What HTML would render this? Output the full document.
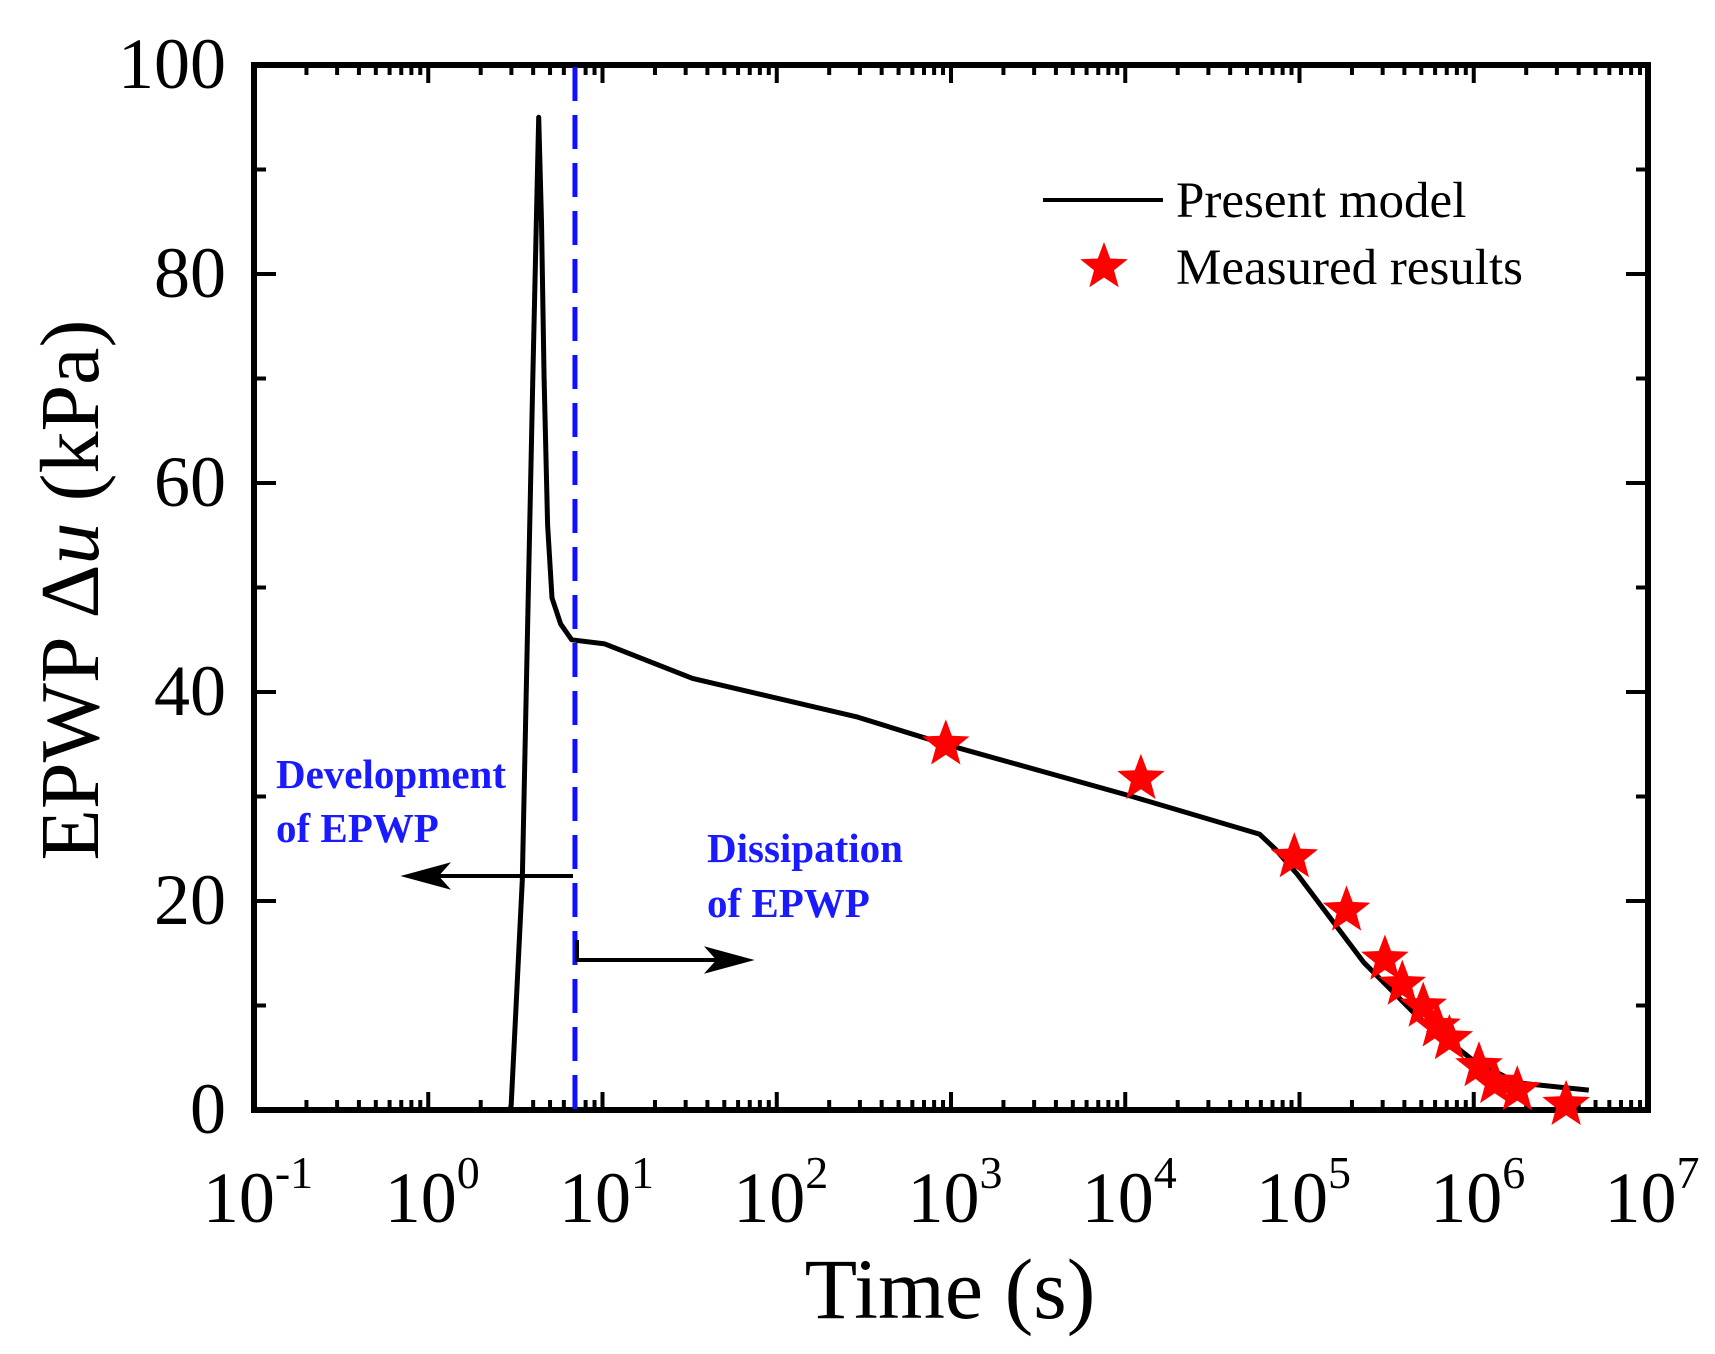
<!DOCTYPE html>
<html><head><meta charset="utf-8"><style>
html,body{margin:0;padding:0;background:#fff;}
svg{display:block;font-family:"Liberation Serif",serif;}
</style></head><body>
<svg id="chart" width="1715" height="1354" viewBox="0 0 1715 1354" xmlns="http://www.w3.org/2000/svg"></svg>
<script>
const curveLogT=[-0.4,0.47,0.476,0.54,0.6,0.634,0.65,0.665,0.685,0.71,0.76,0.823,1.013,1.517,2.464,2.968,4.04,4.77,4.86,4.99,5.37,5.68,6.0,6.25,6.66];
const curveU=[0,0,0.5,22,70,95,85,70,56,49,46.5,45,44.6,41.3,37.6,35,30,26.4,25,22.5,14.1,8.9,4.7,2.6,1.9];
const starLogT=[2.97,4.09,4.97,5.27,5.49,5.59,5.71,5.79,5.86,6.03,6.12,6.25,6.53];
const starU=[35,31.7,24.2,19.1,14.4,12,9.9,8,6.8,4.2,2.6,1.9,0.5];
const xTickExp=[-1,0,1,2,3,4,5,6,7];
const yTicks=[0,20,40,60,80,100];
const dividerLogT=0.842;

const X0=254,X1=1648,Y0=1110,Y1=65;
const xs=l=>X0+(l+1)/8*(X1-X0);
const ys=u=>Y0-u/100*(Y0-Y1);
const svg=document.getElementById('chart');
const NS='http://www.w3.org/2000/svg';
function mk(tag,attrs,parent){const e=document.createElementNS(NS,tag);for(const k in attrs)e.setAttribute(k,attrs[k]);(parent||svg).appendChild(e);return e;}

const tg=mk('g',{stroke:'#000','stroke-width':4});


for(let d=-1;d<7;d++){for(let m=1;m<10;m++){const x=xs(d+Math.log10(m));const len=m===1?18:10;
 mk('line',{x1:x,y1:Y0,x2:x,y2:Y0-len},tg);mk('line',{x1:x,y1:Y1,x2:x,y2:Y1+len},tg);}}
for(let u=0;u<=100;u+=10){const y=ys(u);const len=u%20===0?22:12;
 mk('line',{x1:X0,y1:y,x2:X0+len,y2:y},tg);mk('line',{x1:X1,y1:y,x2:X1-len,y2:y},tg);}

const fr=mk('rect',{x:X0,y:Y1,width:X1-X0,height:Y0-Y1,fill:'none',stroke:'#000','stroke-width':6});



yTicks.forEach(v=>{const t=mk('text',{x:X0-28,y:ys(v)+23,'text-anchor':'end','font-size':72});t.textContent=v;
 
 });
xTickExp.forEach(e=>{const t=mk('text',{x:xs(e)+4,y:1222,'text-anchor':'middle','font-size':72});
 
 
 t.innerHTML='10<tspan dy="-34" font-size="46">'+e+'</tspan>';});

const xt=mk('text',{x:950,y:1318,'text-anchor':'middle','font-size':86});xt.textContent='Time (s)';


const yt=mk('text',{x:0,y:0,'text-anchor':'middle','font-size':84,transform:'translate(98,590) rotate(-90)'});


yt.innerHTML='EPWP Δ<tspan font-style="italic">u</tspan> (kPa)';

const dv=mk('line',{x1:xs(dividerLogT),y1:Y1+2,x2:xs(dividerLogT),y2:Y0,stroke:'#1010ff','stroke-width':5,'stroke-dasharray':'34 14'});



const pts=curveLogT.map((l,i)=>xs(l).toFixed(1)+','+ys(curveU[i]).toFixed(1)).join(' ');
const cv=mk('polyline',{points:pts,fill:'none',stroke:'#000','stroke-width':5,'stroke-linejoin':'round'});



function starPath(cx,cy,R){const r=R*0.42;let d='';for(let i=0;i<10;i++){const a=-Math.PI/2+i*Math.PI/5;const rr=i%2?r:R;d+=(i?'L':'M')+(cx+rr*Math.cos(a)).toFixed(1)+','+(cy+rr*Math.sin(a)).toFixed(1);}return d+'Z';}
starLogT.forEach((l,i)=>{const s=mk('path',{d:starPath(xs(l),ys(starU[i]),25),fill:'#ff0000'});
 
 });

const ag=mk('g',{stroke:'#000','stroke-width':4,fill:'#000'});


mk('line',{x1:573,y1:876,x2:430,y2:876},ag);
mk('path',{d:'M408,876 L445,866 L436,876 L445,886 Z'},ag);
mk('polyline',{points:'577,940 577,960 725,960',fill:'none'},ag);
mk('path',{d:'M747,960 L710,950 L719,960 L710,970 Z'},ag);

function ann(txt,x,y,name){const t=mk('text',{x:x,y:y,'font-size':41,'font-weight':'bold',fill:'#1a1aff'});t.textContent=txt;
 
 }
ann('Development',276,788,'development-label');
ann('of EPWP',276,842,'development-label-2');
ann('Dissipation',707,862,'dissipation-label');
ann('of EPWP',707,917,'dissipation-label-2');

const lg=mk('g',{});


mk('line',{x1:1043,y1:200,x2:1163,y2:200,stroke:'#000','stroke-width':4},lg);
const l1=mk('text',{x:1176,y:217,'font-size':51},lg);l1.textContent='Present model';
mk('path',{d:starPath(1104,267,25),fill:'#ff0000'},lg);
const l2=mk('text',{x:1176,y:284,'font-size':51},lg);l2.textContent='Measured results';
</script>
</body></html>
